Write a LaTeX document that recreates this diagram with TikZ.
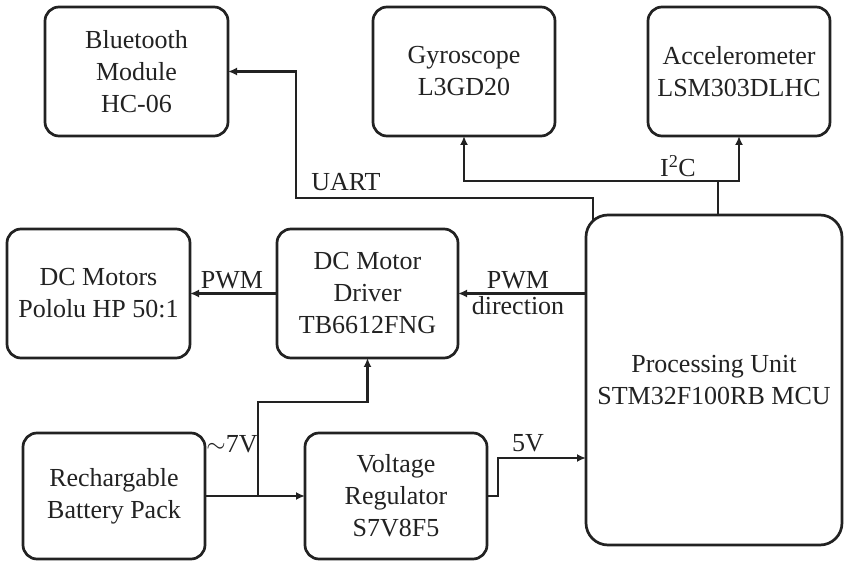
\documentclass[tikz,border=0pt]{standalone}
\usepackage{fontspec}
\setmainfont{Liberation Serif}
\usetikzlibrary{arrows.meta,calc}
\definecolor{ink}{HTML}{222222}
\begin{document}
\begin{tikzpicture}[x=1pt,y=-1pt,
  blk/.style={draw=ink,line width=2.7pt,rounded corners=14pt,align=center,
    text=ink,font=\fontsize{26}{32}\selectfont,inner sep=0pt,outer sep=0pt},
  conn/.style={draw=ink,line width=2.3pt},
  arr/.style={conn,-{Latex[length=9pt,width=8pt]}},
  lbl/.style={text=ink,font=\fontsize{26}{32}\selectfont,inner sep=0pt,anchor=base}]
\useasboundingbox (0,0) rectangle (844,561);
\fill[white] (0,0) rectangle (844,561);

\node[blk,minimum width=183pt,minimum height=129pt] (bt) at (136.5,71.5) {Bluetooth\\Module\\HC-06};
\node[blk,minimum width=182pt,minimum height=129pt] (gy) at (464,71.5) {Gyroscope\\L3GD20};
\node[blk,minimum width=182pt,minimum height=129pt] (ac) at (739,71.5) {Accelerometer\\LSM303DLHC};
\node[blk,minimum width=183pt,minimum height=129pt] (dcm) at (98.5,293.5) {DC Motors\\Pololu HP 50:1};
\node[blk,minimum width=181pt,minimum height=129pt] (drv) at (367.5,293.5) {DC Motor\\Driver\\TB6612FNG};
\node[blk,minimum width=182pt,minimum height=126pt] (bat) at (114,496) {Rechargable\\Battery Pack};
\node[blk,minimum width=182pt,minimum height=126pt] (reg) at (396,496) {Voltage\\Regulator\\S7V8F5};
\node[blk,rounded corners=22pt,minimum width=256pt,minimum height=330pt] (mcu) at (714,380) {Processing Unit\\STM32F100RB MCU};

% UART
\coordinate (u0) at (593,220);
\coordinate (u1) at (296,198);
\draw[arr] (u0) |- (u1) |- (bt.east);
\node[lbl] (uart) at (346,191) {UART};

% I2C
\coordinate (i0) at (718,215);
\coordinate (i1) at (718,181);
\draw[conn] (i0) -- (i1);
\draw[arr] (i1) -| (ac.south);
\draw[arr] (i1) -| (gy.south);
\node[lbl] (i2c) at (678,177) {I\textsuperscript{2}C};

% PWM
\draw[arr] (drv.west) -- (dcm.east);
\node[lbl] (pwm1) at (232,289) {PWM};
\draw[arr] (mcu.west |- drv.east) -- (drv.east);
\node[lbl] (pwm2) at (518,289) {PWM};
\node[lbl] (dir) at (518,315) {direction};

% power
\coordinate (j1) at (258,496);
\coordinate (j2) at (258,402);
\draw[arr] (bat.east) -- (reg.west);
\draw[arr] (j1) -- (j2) -| (drv.south);
\node[lbl] (v7) at (232,453) {$\sim$7V};

\coordinate (c5) at (498,458);
\draw[arr] (reg.east) -- (reg.east -| c5) -- (c5) -- (c5 -| mcu.west);
\node[lbl] (v5) at (528,452) {5V};
\end{tikzpicture}
\end{document}
